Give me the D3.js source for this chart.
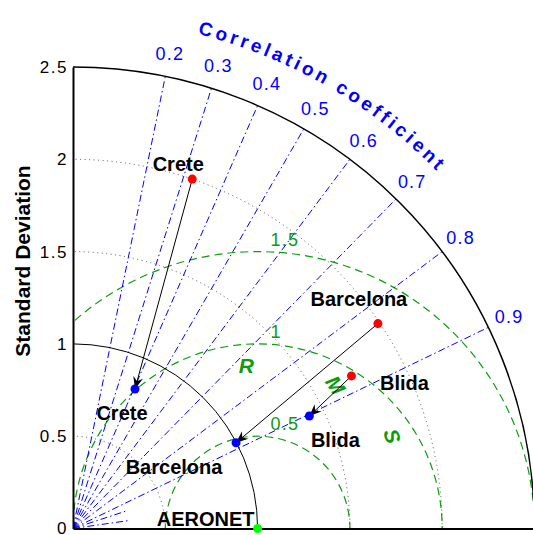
<!DOCTYPE html>
<html>
<head>
<meta charset="utf-8">
<script src="https://cdn.jsdelivr.net/npm/d3@7"></script>
<style>
  html, body { margin: 0; padding: 0; background: #fff; }
  svg { display: block; font-family: "Liberation Sans", Arial, Helvetica, sans-serif; }
</style>
</head>
<body>
<svg id="chart" width="533" height="535"></svg>
<script>
// ---- data -------------------------------------------------------------
const sites = ["Crete", "Barcelona", "Blida"];
// original model runs (red)
const stdRaw  = [2.00, 1.99, 1.72];
const corrRaw = [0.323, 0.830, 0.877];
// corrected runs (blue)
const stdCor  = [0.827, 0.998, 1.418];
const corrCor = [0.406, 0.885, 0.903];
// reference observations
const refName = "AERONET";
const refStd = 1;

const stdTicks   = [0, 0.5, 1, 1.5, 2, 2.5];
const stdDotted  = [0.5, 1.5, 2];
const corrRays   = [0.2, 0.3, 0.4, 0.5, 0.6, 0.7, 0.8, 0.9];
const corrShort  = [0.95, 0.99];
const corrLabels = [0.2, 0.3, 0.4, 0.5, 0.6, 0.7, 0.8, 0.9];
const rmsLevels  = [0.5, 1, 1.5];
const rmsLetters = ["R", "M", "S"];
const stdMax = 2.5;

// ---- layout -----------------------------------------------------------
const O = { x: 73, y: 528.5 };
const r = d3.scaleLinear().domain([0, stdMax]).range([0, 461.5]);
const yAxisScale = d3.scaleLinear().domain([0, stdMax]).range([O.y, O.y - r(stdMax)]);
const xAxisScale = d3.scaleLinear().domain([0, stdMax]).range([O.x, O.x + r(stdMax)]);

const blue = "#0000ff", green = "#0c9c0c", red = "#ff0000";

// label offsets in px (model / corrected / reference)
const rawOffsets = [[-14, -15], [-19, -25], [53, 7]];
const corOffsets = [[-13, 24], [-62, 24], [26, 24]];
const refOffset = [-52, -10];
// RMS letters: position angle around the reference point and glyph rotation (deg)
const letterAngles = [94, 61.5, 34.5];
const letterRotate = [0, 57, 72];

const svg = d3.select("#chart");

function polar(s, c) {
  const th = Math.acos(c);
  return [O.x + r(s) * Math.cos(th), O.y - r(s) * Math.sin(th)];
}
function quarterArc(rad) {
  const p = d3.path();
  p.arc(O.x, O.y, rad, 0, -Math.PI / 2, true);
  return p.toString();
}

// clip region: quarter disc inside the outer arc
const defs = svg.append("defs");
const clipP = d3.path();
clipP.moveTo(O.x, O.y);
clipP.arc(O.x, O.y, r(stdMax), 0, -Math.PI / 2, true);
clipP.closePath();
defs.append("clipPath").attr("id", "quad").append("path").attr("d", clipP.toString());

defs.append("marker")
  .attr("id", "head")
  .attr("viewBox", "-13 -6 15 12")
  .attr("refX", 0).attr("refY", 0)
  .attr("markerWidth", 15).attr("markerHeight", 12)
  .attr("markerUnits", "userSpaceOnUse")
  .attr("orient", "auto")
  .append("path")
  .attr("d", "M0,0 L-12,-5 L-8,0 L-12,5 Z")
  .attr("fill", "#000");

const grid = svg.append("g").attr("clip-path", "url(#quad)");

// RMS circles around the reference point
const refX = xAxisScale(refStd);
grid.selectAll("circle.rms").data(rmsLevels).join("circle")
  .attr("class", "rms")
  .attr("cx", refX).attr("cy", O.y)
  .attr("r", d => r(d))
  .attr("fill", "none")
  .attr("stroke", green).attr("stroke-width", 1.2)
  .attr("stroke-dasharray", "8,5");

// correlation rays
grid.selectAll("line.ray").data(corrRays).join("line")
  .attr("class", "ray")
  .attr("x1", O.x).attr("y1", O.y)
  .attr("x2", d => polar(stdMax, d)[0])
  .attr("y2", d => polar(stdMax, d)[1])
  .attr("stroke", blue).attr("stroke-width", 1)
  .attr("stroke-dasharray", "7,3,1.5,3");
// short spokes near the origin for the high correlations
grid.selectAll("line.ray-short").data(corrShort).join("line")
  .attr("class", "ray-short")
  .attr("x1", O.x).attr("y1", O.y)
  .attr("x2", d => polar(0.3, d)[0])
  .attr("y2", d => polar(0.3, d)[1])
  .attr("stroke", blue).attr("stroke-width", 1)
  .attr("stroke-dasharray", "7,3,1.5,3");

// dotted standard deviation arcs
grid.selectAll("path.sd").data(stdDotted).join("path")
  .attr("class", "sd")
  .attr("d", d => quarterArc(r(d)))
  .attr("fill", "none")
  .attr("stroke", "#555").attr("stroke-width", 1)
  .attr("stroke-dasharray", "1,3.5");

// reference std arc
svg.append("path")
  .attr("d", quarterArc(r(refStd)))
  .attr("fill", "none").attr("stroke", "#000").attr("stroke-width", 1);

// outer arc
svg.append("path")
  .attr("d", quarterArc(r(stdMax)))
  .attr("fill", "none").attr("stroke", "#000").attr("stroke-width", 1.5);

// axes
const yAxis = d3.axisLeft(yAxisScale).tickValues(stdTicks)
  .tickFormat(d3.format("~g")).tickSizeInner(0).tickSizeOuter(0).tickPadding(5);
const gy = svg.append("g").attr("transform", `translate(${O.x},0)`).call(yAxis);
gy.select(".domain").attr("stroke", "#000").attr("stroke-width", 2);
gy.selectAll("text").attr("font-size", 17).attr("fill", "#000")
  .attr("letter-spacing", 1.5)
  .attr("font-family", "'Liberation Sans', Arial, sans-serif");

const xAxis = d3.axisBottom(xAxisScale).tickValues([]).tickSizeOuter(0);
const gx = svg.append("g").attr("transform", `translate(0,${O.y})`).call(xAxis);
gx.select(".domain").attr("stroke", "#000").attr("stroke-width", 2);

svg.append("text")
  .attr("transform", `translate(22,261) rotate(-90)`)
  .attr("text-anchor", "middle").attr("dominant-baseline", "central")
  .attr("font-size", 21).attr("font-weight", "bold")
  .text("Standard Deviation");

// correlation labels
svg.selectAll("text.cl").data(corrLabels).join("text")
  .attr("class", "cl")
  .attr("x", d => polar(stdMax * 1.05, d)[0])
  .attr("y", d => polar(stdMax * 1.05, d)[1])
  .attr("text-anchor", "middle").attr("dominant-baseline", "central")
  .attr("font-size", 18).attr("letter-spacing", 1.2).attr("fill", blue)
  .text(d => d3.format("~g")(d));

// curved title
const titleR = 510;
const tp = d3.path();
tp.arc(O.x, O.y, titleR, -Math.PI * 100 / 180, -Math.PI * 20 / 180, false);
defs.append("path").attr("id", "titlePath").attr("d", tp.toString());
svg.append("text")
  .attr("font-size", 19).attr("font-weight", "bold").attr("fill", blue)
  .attr("letter-spacing", 3.5)
  .append("textPath")
  .attr("href", "#titlePath")
  .attr("startOffset", "50%").attr("text-anchor", "middle")
  .text("Correlation coefficient");

// RMS labels
svg.selectAll("text.rl").data(rmsLevels).join("text")
  .attr("class", "rl")
  .attr("x", refX + 13)
  .attr("y", d => O.y - r(d) - 6)
  .attr("font-size", 18).attr("letter-spacing", 1.2).attr("fill", green)
  .text(d => d3.format("~g")(d));

const letterR = r(0.885);
svg.selectAll("text.rms-letter").data(rmsLetters).join("text")
  .attr("class", "rms-letter")
  .attr("transform", (d, i) => {
    const a = letterAngles[i] * Math.PI / 180;
    const x = refX + letterR * Math.cos(a), y = O.y - letterR * Math.sin(a);
    return `translate(${x},${y}) rotate(${letterRotate[i]})`;
  })
  .attr("text-anchor", "middle").attr("dominant-baseline", "central")
  .attr("font-size", 21).attr("font-weight", "bold").attr("font-style", "italic")
  .attr("fill", green)
  .text(d => d);

// arrows from raw to corrected
const rawPts = sites.map((s, i) => polar(stdRaw[i], corrRaw[i]));
const corPts = sites.map((s, i) => polar(stdCor[i], corrCor[i]));
svg.selectAll("line.arrow").data(sites).join("line")
  .attr("class", "arrow")
  .attr("x1", (d, i) => rawPts[i][0]).attr("y1", (d, i) => rawPts[i][1])
  .attr("x2", (d, i) => corPts[i][0]).attr("y2", (d, i) => corPts[i][1])
  .attr("stroke", "#000").attr("stroke-width", 1)
  .attr("marker-end", "url(#head)");

// points
svg.selectAll("circle.raw").data(sites).join("circle")
  .attr("class", "raw")
  .attr("cx", (d, i) => rawPts[i][0]).attr("cy", (d, i) => rawPts[i][1])
  .attr("r", 4.5).attr("fill", red);
svg.selectAll("circle.cor").data(sites).join("circle")
  .attr("class", "cor")
  .attr("cx", (d, i) => corPts[i][0]).attr("cy", (d, i) => corPts[i][1])
  .attr("r", 4.5).attr("fill", blue);
svg.append("circle")
  .attr("cx", refX).attr("cy", O.y).attr("r", 4.5).attr("fill", "#00ff00");

// point labels
function addLabels(pts, offs, cls) {
  svg.selectAll("text." + cls).data(sites).join("text")
    .attr("class", cls)
    .attr("x", (d, i) => pts[i][0] + offs[i][0])
    .attr("y", (d, i) => pts[i][1] + offs[i][1])
    .attr("text-anchor", "middle").attr("dominant-baseline", "central")
    .attr("font-size", 20).attr("font-weight", "bold").attr("fill", "#000")
    .text(d => d);
}
addLabels(rawPts, rawOffsets, "rawlab");
addLabels(corPts, corOffsets, "corlab");
svg.append("text")
  .attr("x", refX + refOffset[0]).attr("y", O.y + refOffset[1])
  .attr("text-anchor", "middle").attr("dominant-baseline", "central")
  .attr("font-size", 20).attr("font-weight", "bold")
  .text(refName);
</script>
</body>
</html>
